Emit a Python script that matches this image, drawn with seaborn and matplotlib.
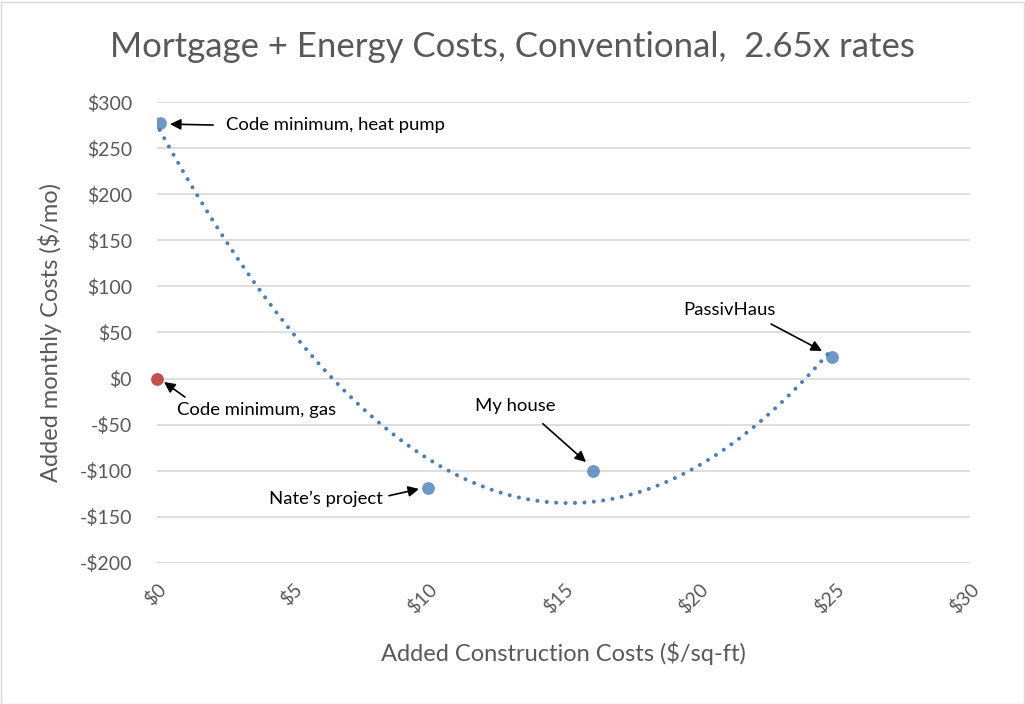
import seaborn as sns
import matplotlib.pyplot as plt
import pandas as pd
from matplotlib.patches import Rectangle

# blue options (heat pump based)
build_cost = [0.1, 10.0, 16.1, 24.9]
monthly_cost = [277, -119, -100, 23]
# red reference point (code minimum, gas)
gas_cost = [0.0]
gas_monthly = [0]

x_ticks = [0, 5, 10, 15, 20, 25, 30]
y_ticks = [-200, -150, -100, -50, 0, 50, 100, 150, 200, 250, 300]

df = pd.DataFrame({"cost": build_cost, "monthly": monthly_cost})

sns.set_style("white")
plt.rcParams['font.family'] = ['Lato', 'DejaVu Sans']

blue = "#4A7EBB"
red = "#C0504D"
grey_txt = "#595959"

fig = plt.figure(figsize=(10.25, 7.04), dpi=100)
ax = fig.add_axes([157/1025, 1 - 563/704, (970-157)/1025, (563-102)/704])

sns.regplot(data=df, x="cost", y="monthly", order=2, ci=None, ax=ax,
            scatter_kws=dict(s=85, color=blue, zorder=3, linewidths=0),
            line_kws=dict(color=blue, lw=2.9, ls=(0, (0.01, 2.33)),
                          dash_capstyle='round'))
sns.scatterplot(x=gas_cost, y=gas_monthly, color=red, s=85, ax=ax, zorder=3,
                linewidth=0, clip_on=False)

ax.set_xlim(0, 30)
ax.set_ylim(-200, 300)
ax.set_xticks(x_ticks)
ax.set_yticks(y_ticks)
ax.set_xticklabels([f"${v}" for v in x_ticks], rotation=45, ha='right', va='top',
                   rotation_mode='anchor', fontsize=14, color=grey_txt)
ax.set_yticklabels([f"-${-v}" if v < 0 else f"${v}" for v in y_ticks],
                   fontsize=14, color=grey_txt)
ax.tick_params(axis='y', length=0, pad=18)
ax.tick_params(axis='x', length=0, pad=12)
ax.grid(axis='y', color="#D9D9D9", lw=1.2)
ax.set_axisbelow(True)
for s in ax.spines.values():
    s.set_visible(False)

ax.set_xlabel("Added Construction Costs ($/sq-ft)", fontsize=17, color=grey_txt, labelpad=18)
ax.set_ylabel("Added monthly Costs ($/mo)", fontsize=17, color=grey_txt)
ax.yaxis.set_label_coords(-0.117, 0.5)
fig.text(512/1025, 1 - 47/704, "Mortgage + Energy Costs, Conventional,  2.65x rates",
         ha='center', va='center', fontsize=25, color=grey_txt)

arrow = dict(arrowstyle='-|>', color='black', lw=1.2, mutation_scale=16,
             shrinkA=0, shrinkB=0)
notes = [
    ("Code minimum, heat pump", (2.55, 275), 'left', (2.07, 275), (0.48, 276)),
    ("Code minimum, gas", (0.74, -34), 'left', (1.03, -20), (0.26, -3.7)),
    ("Nate\u2019s project", (8.34, -130.6), 'right', (8.56, -127), (9.67, -119.7)),
    ("My house", (11.73, -29.7), 'left', (14.24, -49), (15.83, -90.5)),
    ("PassivHaus", (19.41, 74.4), 'left', (22.66, 59.2), (24.54, 30)),
]
for txt, pos, ha, tail, head in notes:
    ax.text(pos[0], pos[1], txt, ha=ha, va='center', fontsize=13.3, color='black')
    ax.annotate("", xy=head, xytext=tail, arrowprops=arrow)

fig.add_artist(Rectangle((0.5/1025, 0.5/704), 1 - 2/1025, 1 - 2/704,
                         transform=fig.transFigure, fill=False, ec="#D9D9D9", lw=1))

fig.savefig("out.png", dpi=100)
